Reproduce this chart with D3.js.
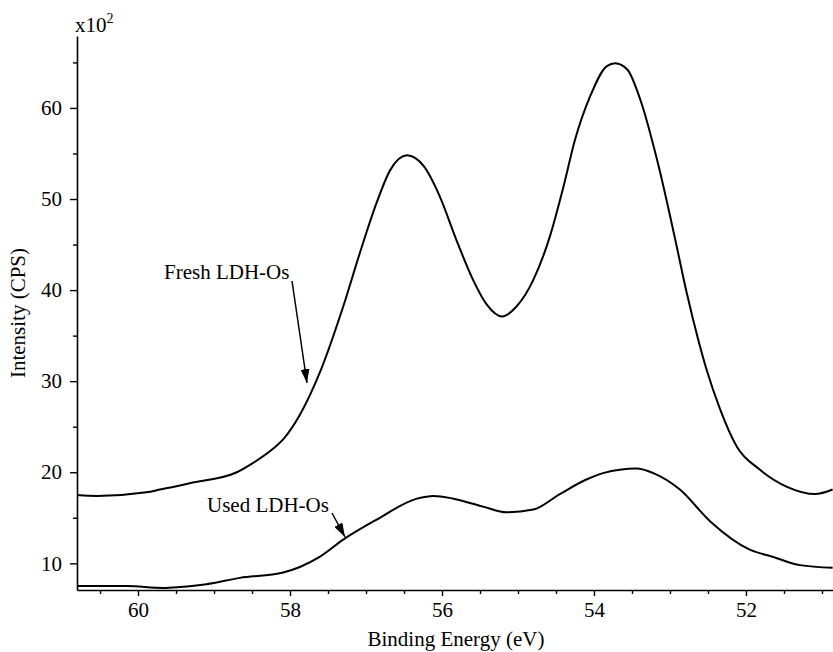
<!DOCTYPE html>
<html>
<head>
<meta charset="utf-8">
<script src="https://cdn.jsdelivr.net/npm/d3@7"></script>
<style>
  body { margin: 0; background: #fff; }
  text { font-family: "Liberation Serif", "DejaVu Serif", serif; fill: #000; }
</style>
</head>
<body>
<svg id="chart" width="833" height="652"></svg>
<script>
// binding energy (eV) vs intensity (x10^2 CPS)
const freshBE = [60.80, 60.54, 59.89, 59.71, 59.32, 58.70, 58.49, 58.22, 58.09, 57.87, 57.61, 57.30, 57.08, 56.86, 56.68, 56.46, 56.24, 56.03, 55.81, 55.59, 55.41, 55.21, 55.02, 54.80, 54.58, 54.40, 54.25, 54.05, 53.83, 53.72, 53.56, 53.39, 53.17, 52.94, 52.78, 52.63, 52.52, 52.34, 52.12, 51.82, 51.46, 51.09, 50.86];
const freshI = [17.5, 17.4, 17.8, 18.1, 18.8, 20.0, 21.0, 22.6, 23.6, 26.3, 30.9, 38.2, 44.1, 49.6, 53.2, 54.8, 53.6, 50.3, 45.5, 41.1, 38.4, 37.1, 38.2, 41.1, 45.9, 51.4, 56.5, 61.3, 64.6, 64.9, 64.2, 60.9, 54.3, 45.9, 39.7, 34.6, 31.3, 26.9, 22.8, 20.3, 18.4, 17.6, 18.1];

const usedBE = [60.80, 60.15, 59.67, 59.45, 59.10, 58.66, 58.09, 57.87, 57.61, 57.30, 56.86, 56.33, 56.11, 55.85, 55.45, 55.15, 54.80, 54.45, 54.10, 53.88, 53.44, 53.22, 52.87, 52.47, 51.95, 51.64, 51.29, 50.86];
const usedI = [7.5, 7.5, 7.3, 7.4, 7.7, 8.4, 9.0, 9.6, 10.7, 12.6, 14.8, 17.1, 17.4, 17.1, 16.2, 15.6, 15.9, 17.6, 19.2, 19.9, 20.4, 19.9, 18.1, 14.6, 11.5, 10.7, 9.8, 9.5];

const xMajor = [60, 58, 56, 54, 52];
const xMinor = [60.5, 59.5, 59, 58.5, 57.5, 57, 56.5, 55.5, 55, 54.5, 53.5, 53, 52.5, 51.5, 51];
const yMajor = [10, 20, 30, 40, 50, 60];
const yMinor = [15, 25, 35, 45, 55, 65];

const svg = d3.select("#chart");
const plotLeft = 77, plotRight = 833, plotTop = 36, plotBottom = 590;
const fs = 21;

const x = d3.scaleLinear().domain([60.803, 50.855]).range([plotLeft, plotRight]);
const y = d3.scaleLinear().domain([7.07, 67.9]).range([plotBottom, plotTop]);

// arrow head
svg.append("defs").append("marker")
  .attr("id", "arrow")
  .attr("viewBox", "0 0 14 9")
  .attr("refX", 14).attr("refY", 4.5)
  .attr("markerWidth", 14).attr("markerHeight", 9)
  .attr("markerUnits", "userSpaceOnUse")
  .attr("orient", "auto")
  .append("path").attr("d", "M0,0L14,4.5L0,9Z").attr("fill", "#000");

// x axis
const xAxis = svg.append("g").attr("transform", `translate(0,${plotBottom})`);
xAxis.call(d3.axisBottom(x).tickValues(xMajor).tickSize(6).tickSizeOuter(0).tickPadding(6).tickFormat(d3.format("d")));
xAxis.append("g").call(d3.axisBottom(x).tickValues(xMinor).tickSize(4).tickFormat(""))
  .select(".domain").remove();

// y axis
const yAxis = svg.append("g").attr("transform", `translate(${plotLeft},0)`);
yAxis.call(d3.axisLeft(y).tickValues(yMajor).tickSize(7).tickSizeOuter(0).tickPadding(8).tickFormat(d3.format("d")));
yAxis.append("g").call(d3.axisLeft(y).tickValues(yMinor).tickSize(4).tickFormat(""))
  .select(".domain").remove();

svg.selectAll(".domain").attr("stroke-width", 1.6);
svg.selectAll(".tick line").attr("stroke-width", 1.4);
svg.selectAll(".tick text").attr("font-size", fs).style("font-family", "Liberation Serif, serif");

// axis titles
svg.append("text")
  .attr("x", 456).attr("y", 646)
  .attr("text-anchor", "middle").attr("font-size", fs)
  .text("Binding Energy (eV)");

svg.append("text")
  .attr("transform", "translate(25,313) rotate(-90)")
  .attr("text-anchor", "middle").attr("font-size", fs)
  .text("Intensity (CPS)");

const mult = svg.append("text").attr("x", 75).attr("y", 32).attr("font-size", fs);
mult.append("tspan").text("x10");
mult.append("tspan").attr("font-size", 14).attr("dy", -9).text("2");

// curves
const line = d3.line().x((d) => x(d[0])).y((d) => y(d[1])).curve(d3.curveMonotoneX);

svg.append("path")
  .datum(d3.zip(freshBE, freshI))
  .attr("fill", "none").attr("stroke", "#000").attr("stroke-width", 2)
  .attr("d", line);

svg.append("path")
  .datum(d3.zip(usedBE, usedI))
  .attr("fill", "none").attr("stroke", "#000").attr("stroke-width", 2)
  .attr("d", line);

// annotations
svg.append("text").attr("x", 164).attr("y", 279).attr("font-size", fs).text("Fresh LDH-Os");
svg.append("line")
  .attr("x1", 292).attr("y1", 281).attr("x2", 307).attr("y2", 383)
  .attr("stroke", "#000").attr("stroke-width", 1.5)
  .attr("marker-end", "url(#arrow)");

svg.append("text").attr("x", 207).attr("y", 512).attr("font-size", fs).text("Used LDH-Os");
svg.append("line")
  .attr("x1", 332).attr("y1", 513).attr("x2", 345).attr("y2", 537)
  .attr("stroke", "#000").attr("stroke-width", 1.5)
  .attr("marker-end", "url(#arrow)");
</script>
</body>
</html>
